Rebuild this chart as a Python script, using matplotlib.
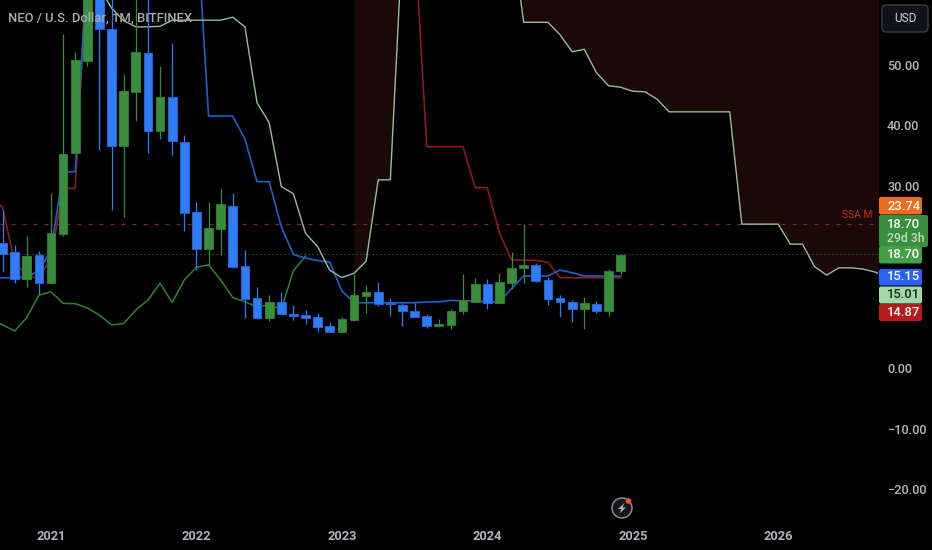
import numpy as np
import matplotlib
matplotlib.use('Agg')
import matplotlib.pyplot as plt
from matplotlib.patches import FancyBboxPatch, Circle, Polygon

plt.rcParams['font.family'] = ['Roboto', 'DejaVu Sans']

# monthly candles, index 0 = Jan 2021
first_month = -4
opens = [20.54, 19.16, 14.6, 18.6, 14.05, 22.08, 35.4, 50.6, 65.0, 55.85, 36.57, 45.5, 51.9, 39.1, 44.6, 37.3,
         25.75, 19.55, 22.9, 26.74, 16.8, 11.48, 8.3, 10.9, 8.95, 8.73, 8.35, 6.92, 5.93, 7.9, 11.86, 12.5,
         10.76, 10.43, 9.44, 8.57, 6.92, 7.13, 9.34, 10.87, 13.84, 10.65, 14.05, 16.47, 16.92, 14.5, 11.48,
         10.82, 9.67, 10.49, 9.34, 15.93]
closes = [18.78, 14.6, 18.45, 14.05, 22.2, 35.25, 50.74, 65.0, 55.85, 36.57, 45.63, 52.1, 39.1, 44.6, 37.4, 25.5,
          19.55, 23.0, 26.97, 16.6, 11.37, 8.29, 10.9, 8.85, 8.6, 8.29, 6.8, 5.93, 8.02, 11.97, 12.5, 10.54,
          10.5, 9.34, 8.45, 6.92, 7.25, 9.44, 11.15, 13.84, 10.65, 14.17, 16.42, 16.9, 14.38, 11.37, 10.87,
          9.67, 10.65, 9.34, 15.93, 18.56]
highs = [26.0, 20.26, 21.75, 19.3, 28.8, 55.1, 52.1, 75.0, 72.0, 70.0, 48.4, 65.0, 65.0, 49.75, 53.5, 38.4,
         27.4, 27.4, 29.5, 28.8, 19.44, 13.3, 12.0, 12.5, 10.3, 9.55, 9.1, 7.46, 8.45, 15.5, 13.67, 14.17,
         11.48, 10.66, 10.76, 8.9, 8.0, 9.77, 15.44, 14.88, 14.7, 15.6, 19.1, 23.67, 17.25, 15.04, 11.97,
         11.15, 11.65, 10.99, 16.26, 18.78]
lows = [15.86, 13.95, 13.4, 12.2, 13.84, 21.75, 35.4, 49.8, 35.9, 26.1, 24.9, 40.7, 35.5, 37.7, 35.1, 22.6,
        16.15, 17.0, 18.6, 16.5, 8.3, 8.0, 7.8, 8.85, 7.9, 7.25, 6.0, 5.93, 5.93, 7.8, 9.1, 10.2,
        8.6, 6.92, 8.45, 6.6, 6.8, 6.47, 8.95, 10.87, 9.77, 10.65, 12.96, 13.95, 14.2, 10.3, 8.45,
        7.58, 6.47, 9.11, 8.62, 15.49]

# indicator lines, all start at index -5 except the light one
blue_line = [14.75, 14.83, 14.9, 14.95, 16.0, 19.4, 32.3, 32.35, 67.2, 75.0, 75.0, 75.0, 75.0, 75.0, 75.0, 75.0,
             75.0, 74.3, 41.5, 41.5, 41.5, 37.7, 30.7, 30.7, 23.3, 18.7, 18.1, 17.7, 17.45, 12.7, 10.75, 10.75,
             10.75, 10.75, 10.75, 10.75, 10.87, 10.9, 11.15, 11.05, 11.05, 10.9, 10.9, 13.1, 15.15, 15.15, 15.15,
             16.15, 15.7, 15.15, 15.15, 15.15, 15.15]
red_line = [28.5, 26.4, 17.5, 15.15, 14.83, 18.1, 29.6, 29.6, 67.2, 72.0, 72.0, 72.0, 72.0, 72.0, 72.0, 72.0,
            72.0, 72.0, 72.0, 72.0, 72.0, 72.0, 72.0, 72.0, 72.0, 72.0, 72.0, 72.0, 72.0, 72.0, 72.0, 72.0,
            72.0, 72.0, 72.0, 71.3, 36.45, 36.45, 36.45, 36.45, 29.7, 29.7, 22.25, 17.8, 17.75, 17.75, 17.4,
            14.87, 14.87, 14.87, 14.87, 14.87, 14.87]
lag_line = [8.2, 7.1, 6.1, 8.3, 12.0, 12.55, 10.65, 10.6, 9.9, 8.7, 7.1, 7.35, 9.55, 11.2, 13.95, 10.8,
            14.5, 16.6, 17.0, 14.5, 11.6, 10.9, 10.1, 10.4, 9.7, 16.0, 18.45]
# light line starts at index 4
light_line = [62.6, 59.3, 57.2, 56.2, 56.2, 56.3, 57.3, 57.3, 57.3, 57.3, 57.3, 57.8, 56.2, 43.7, 40.4, 29.9,
              28.7, 22.2, 20.0, 16.1, 14.9, 15.6, 17.6, 31.0, 31.0, 70.8, 74.0, 74.0, 74.0, 74.0, 74.0, 74.0,
              74.0, 74.0, 71.7, 56.95, 56.95, 56.95, 54.9, 52.1, 52.5, 48.65, 46.5, 46.25, 45.6, 45.5, 44.3,
              42.2, 42.2, 42.2, 42.2, 42.2, 42.2, 23.7, 23.7, 23.7, 23.7, 20.4, 20.4, 16.7, 15.3, 16.5, 16.5,
              16.3, 15.8, 15.0]

year_ticks = [0, 12, 24, 36, 48, 60]
year_labels = ['2021', '2022', '2023', '2024', '2025', '2026']
# 20.00 and 10.00 sit behind the price tags in the reference
price_ticks = [50, 40, 30, 0, -10, -20]
price_labels = ['50.00', '40.00', '30.00', '0.00', '\u221210.00', '\u221220.00']

W, H = 932, 550
TXT = '#b2b5be'

fig = plt.figure(figsize=(W / 100, H / 100), dpi=100, facecolor='black')
ax = fig.add_axes([0, (H - 522) / H, 878 / W, 522 / H], facecolor='black')
ax.set_xlim(-51 / 12.12, 827 / 12.12)
ax.set_ylim(-154 / 6.07, 368 / 6.07)
for s in ax.spines.values():
    s.set_visible(False)

x = np.arange(first_month, first_month + len(opens))
x_line = np.arange(-5, -5 + len(blue_line))
x_lag = np.arange(-5, -5 + len(lag_line))
x_light = np.arange(4, 4 + len(light_line))
light = np.array(light_line)

# cloud, only where the light line is the lower edge
ax.fill_between(x_light, light, 61, where=(x_light >= 25) & (x_light <= 29), color='#1a0907', lw=0, zorder=1)
ax.fill_between(x_light, light, 61, where=x_light >= 38, color='#1a0907', lw=0, zorder=1)

ax.axhline(23.74, color='#8f2a10', lw=0.9, dashes=(3.2, 5.6), zorder=2)
ax.axhline(18.70, color='#357a3a', lw=0.8, dashes=(1, 2.6), zorder=2)

ax.plot(x_lag, lag_line, color='#2e7d32', lw=1.15, zorder=3)
ax.plot(x_line, red_line, color='#8e1a1c', lw=1.2, zorder=3)
ax.plot(x_line, blue_line, color='#1d5fd0', lw=1.2, zorder=3)
ax.plot(x_light, light_line, color='#98bd9a', lw=1.0, zorder=3)

o, c = np.array(opens), np.array(closes)
up = c >= o
colors = np.where(up, '#388e3c', '#2f7cf8')
edges = np.where(up, '#2e7d32', '#2563d8')
ax.vlines(x, lows, highs, colors=colors, lw=0.9, zorder=4)
ax.bar(x, np.abs(c - o), bottom=np.minimum(o, c), width=0.72, color=colors, edgecolor=edges, lw=0.7, zorder=5)

ax.set_xticks(year_ticks)
ax.set_xticklabels(year_labels, color=TXT, fontsize=9.2, fontweight='bold')
ax.tick_params(axis='x', length=0, pad=5.5)
ax.yaxis.tick_right()
ax.set_yticks(price_ticks)
ax.set_yticklabels(price_labels, color=TXT, fontsize=9.2, ha='left', fontweight='medium')
ax.tick_params(axis='y', length=0, pad=6.5)

# overlay in pixel coords for the tags and the header
ov = fig.add_axes([0, 0, 1, 1], facecolor='none')
ov.set_xlim(0, W)
ov.set_ylim(H, 0)
ov.axis('off')


def tag(x0, y0, x1, y1, col):
    ov.add_patch(FancyBboxPatch((x0 + 1.5, y0 + 1.5), x1 - x0 - 3, y1 - y0 - 3, boxstyle='round,pad=1.5,rounding_size=2',
                                fc=col, ec='none', zorder=3))


ov.text(8, 17.5, 'NEO / U.S. Dollar, 1M, BITFINEX', color='#a8abb3', fontsize=9.4, va='center', ha='left', fontweight='medium')
ov.text(857, 215, 'SSA M', color='#c42f14', fontsize=7.4, va='center', ha='center')

ov.add_patch(FancyBboxPatch((884, 7), 42, 23, boxstyle='round,pad=2,rounding_size=4', fc='#111318', ec='#3a3d45', lw=1))
ov.text(905, 18.5, 'USD', color='#d1d4dc', fontsize=8.6, va='center', ha='center')

tag(879, 197, 922, 214.5, '#ef6c1c')
tag(879, 215, 928, 247, '#388e3c')
tag(879, 246, 922, 263.5, '#43a047')
tag(879, 269, 922, 285.5, '#2962ff')
tag(879, 286.5, 922, 303.5, '#a5d6a7')
tag(879, 304, 922, 321, '#b71c1c')
for y_txt, s, col, size in [(206, '23.74', 'white', 9.4), (224, '18.70', 'white', 9.4), (238, '29d 3h', '#c4dcc5', 8.8),
                            (255, '18.70', 'white', 9.4), (277, '15.15', 'white', 9.4), (295, '15.01', '#1a2a1b', 9.4),
                            (312.5, '14.87', 'white', 9.4)]:
    ov.text(887, y_txt, s, color=col, fontsize=size, va='center', ha='left', zorder=4, fontweight='medium')

# lightning badge
ov.add_patch(Circle((622, 508), 10, fc='#16171b', ec='#8d8a8e', lw=1.1))
ov.add_patch(Polygon([(624.5, 503), (618, 509), (621.5, 509), (619.5, 513.5), (626, 507.5), (622.5, 507.5)],
                     fc='#b2b5be', ec='none', zorder=3))
ov.add_patch(Circle((628.5, 501), 2.8, fc='#f0532d', ec='none', zorder=4))

fig.savefig('out.png', dpi=100, facecolor='black')
